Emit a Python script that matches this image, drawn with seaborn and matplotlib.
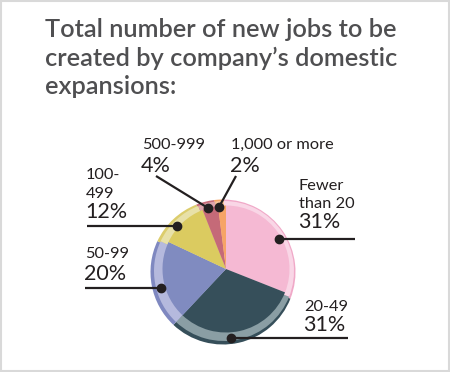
import numpy as np
import seaborn as sns
import matplotlib.pyplot as plt
from matplotlib.patches import Rectangle

# --------- Data ---------
categories = ["Fewer\nthan 20", "20-49", "50-99", "100-\n499", "500-999", "1,000 or more"]
shares = [31, 31, 20, 12, 4, 2]
pct_labels = ["31%", "31%", "20%", "12%", "4%", "2%"]

title_lines = ["Total number of new jobs to be",
               "created by company\u2019s domestic",
               "expansions:"]

# --------- Style ---------
main_colors = ["#f5b9d3", "#364f5a", "#808bc0", "#dbcb60", "#c56a78", "#f6a466"]
rim_colors = ["#f9d6e6", "#8a9ea4", "#b5b9dd", "#e8e1a8", "#dca3ac", "#f9c79d"]
edge_colors = ["#f0a9c8", "#364f5a", "#7f88c0", "#dccd6c", "#c56a78", "#f6a466"]

sns.set_style("white")
plt.rcParams["font.family"] = ["Lato", "DejaVu Sans"]

W, H = 450, 372
fig = plt.figure(figsize=(W / 100, H / 100), dpi=100)
ax = fig.add_axes([0, 0, 1, 1])

# border
fig.patches.append(Rectangle((0.002, 0.003), 0.996, 0.994, transform=fig.transFigure,
                             fill=False, edgecolor="#d9d9d9", linewidth=1.5))

# title
for i, line in enumerate(title_lines):
    ax.text(45, H - 37 - i * 28.5, line, fontsize=18.3, color="#4f4f51",
            ha="left", va="baseline", fontweight="semibold")

# --------- Pie (outer rim + inner body) ---------
cx, cy, R = 223, H - 272, 72.5
ax.pie(shares, colors=edge_colors, startangle=90, counterclock=False,
       center=(cx, cy), radius=R, frame=True,
       wedgeprops=dict(linewidth=0))
ax.pie(shares, colors=rim_colors, startangle=90, counterclock=False,
       center=(cx + 1, cy + 1), radius=R - 2.5, frame=True,
       wedgeprops=dict(linewidth=0))
ax.pie(shares, colors=main_colors, startangle=90, counterclock=False,
       center=(cx + 3, cy + 3), radius=R - 9, frame=True,
       wedgeprops=dict(linewidth=0))
ax.set_xlim(0, W)
ax.set_ylim(0, H)
ax.set_aspect("equal")
ax.axis("off")

# --------- Labels & leader lines ---------
angles = 90 - np.cumsum([0] + shares[:-1]) * 3.6 - np.array(shares) * 1.8
dot_shift = [-4, -6, 4, 2, -1, 0]
dot_r = [65, 66.5, 64, 65, 66, 65]

# label anchor (x, baseline of category line 1), line end point
label_pos = [(299, 190), (304, 311), (85, 258), (86, 179), (142, 149), (231, 149)]
pct_base = [228, 331, 280, 218, 172, 172]
line_end = [(355, None), (348, None), (85, None), (87, None), (156, 176), (236, 176)]

for i, cat in enumerate(categories):
    a = np.deg2rad(angles[i] + dot_shift[i])
    dx = cx + dot_r[i] * np.cos(a)
    dy = cy + dot_r[i] * np.sin(a)
    ex, ey = line_end[i]
    ey = dy if ey is None else H - ey
    ax.plot([dx, ex], [dy, ey], color="#231f20", linewidth=1.6,
            solid_capstyle="butt", zorder=5)
    ax.plot(dx, dy, "o", color="#231f20", markersize=6, zorder=6)

    lx, lb = label_pos[i]
    ax.text(lx, H - lb, cat.split("\n")[0], fontsize=11.8, color="#231f20",
            ha="left", va="baseline")
    if "\n" in cat:
        ax.text(lx, H - lb - 18.5, cat.split("\n")[1], fontsize=11.8,
                color="#231f20", ha="left", va="baseline")
    ax.text(lx - 1, H - pct_base[i], pct_labels[i], fontsize=15.5, color="#231f20",
            ha="left", va="baseline")

fig.savefig("out.png", dpi=100)
